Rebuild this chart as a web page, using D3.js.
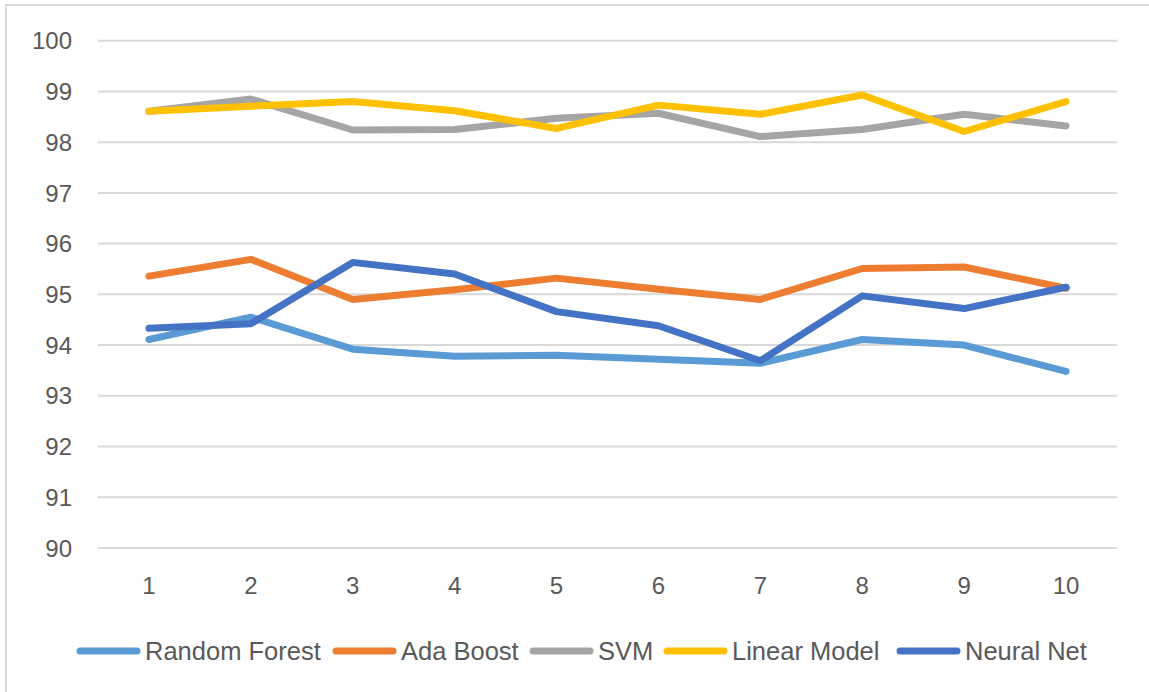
<!DOCTYPE html>
<html>
<head>
<meta charset="utf-8">
<script src="https://cdn.jsdelivr.net/npm/d3@7"></script>
<style>
  body { margin: 0; background: #fff; }
  svg { display: block; }
  text { font-family: "Liberation Sans", Arial, sans-serif; fill: #595959; }
</style>
</head>
<body>
<svg width="1149" height="692"></svg>
<script>
const runs = [1, 2, 3, 4, 5, 6, 7, 8, 9, 10];
const yTicks = [90, 91, 92, 93, 94, 95, 96, 97, 98, 99, 100];

const randomForest = [94.11, 94.55, 93.92, 93.78, 93.80, 93.72, 93.64, 94.11, 94.00, 93.48];
const adaBoost     = [95.36, 95.69, 94.90, 95.09, 95.32, 95.10, 94.90, 95.51, 95.54, 95.12];
const svm          = [98.61, 98.85, 98.24, 98.25, 98.47, 98.57, 98.11, 98.25, 98.55, 98.32];
const linearModel  = [98.61, 98.71, 98.80, 98.62, 98.27, 98.73, 98.55, 98.93, 98.21, 98.80];
const neuralNet    = [94.33, 94.42, 95.63, 95.40, 94.66, 94.38, 93.69, 94.97, 94.72, 95.14];

const seriesNames = ["Random Forest", "Ada Boost", "SVM", "Linear Model", "Neural Net"];
const seriesColors = ["#5B9BD5", "#ED7D31", "#A5A5A5", "#FFC000", "#4472C4"];
const seriesValues = [randomForest, adaBoost, svm, linearModel, neuralNet];

const svg = d3.select("svg");

// outer chart border (runs off the right and bottom edge)
svg.append("rect")
  .attr("x", 6).attr("y", 5)
  .attr("width", 1160).attr("height", 700)
  .attr("fill", "none")
  .attr("stroke", "#d9d9d9")
  .attr("stroke-width", 2);

const x = d3.scalePoint()
  .domain(runs)
  .range([98, 1117])
  .padding(0.5);

const y = d3.scaleLinear()
  .domain([90, 100])
  .range([548, 40.7]);

// gridlines
svg.append("g")
  .selectAll("line")
  .data(yTicks)
  .enter()
  .append("line")
  .attr("x1", 98).attr("x2", 1117)
  .attr("y1", d => y(d)).attr("y2", d => y(d))
  .attr("stroke", "#d9d9d9")
  .attr("stroke-width", 2);

// y labels
svg.append("g")
  .selectAll("text")
  .data(yTicks)
  .enter()
  .append("text")
  .attr("x", 72)
  .attr("y", d => y(d))
  .attr("dy", "0.36em")
  .attr("text-anchor", "end")
  .attr("font-size", 24)
  .text(d => d);

// x labels
svg.append("g")
  .selectAll("text")
  .data(runs)
  .enter()
  .append("text")
  .attr("x", d => x(d))
  .attr("y", 585)
  .attr("dy", "0.36em")
  .attr("text-anchor", "middle")
  .attr("font-size", 24)
  .text(d => d);

const line = d3.line()
  .x((d, i) => x(runs[i]))
  .y(d => y(d));

svg.append("g")
  .selectAll("path")
  .data(seriesValues)
  .enter()
  .append("path")
  .attr("d", d => line(d))
  .attr("fill", "none")
  .attr("stroke", (d, i) => seriesColors[i])
  .attr("stroke-width", 7)
  .attr("stroke-linecap", "round")
  .attr("stroke-linejoin", "round");

// legend
const legendX = [77, 333, 530, 664, 897];
const legend = svg.append("g")
  .selectAll("g")
  .data(seriesNames)
  .enter()
  .append("g")
  .attr("transform", (d, i) => "translate(" + legendX[i] + ",651)");

legend.append("line")
  .attr("x1", 3).attr("x2", 60)
  .attr("y1", 0).attr("y2", 0)
  .attr("stroke", (d, i) => seriesColors[i])
  .attr("stroke-width", 7)
  .attr("stroke-linecap", "round");

legend.append("text")
  .attr("x", 68)
  .attr("y", 0)
  .attr("dy", "0.36em")
  .attr("font-size", 25.5)
  .text(d => d);
</script>
</body>
</html>
